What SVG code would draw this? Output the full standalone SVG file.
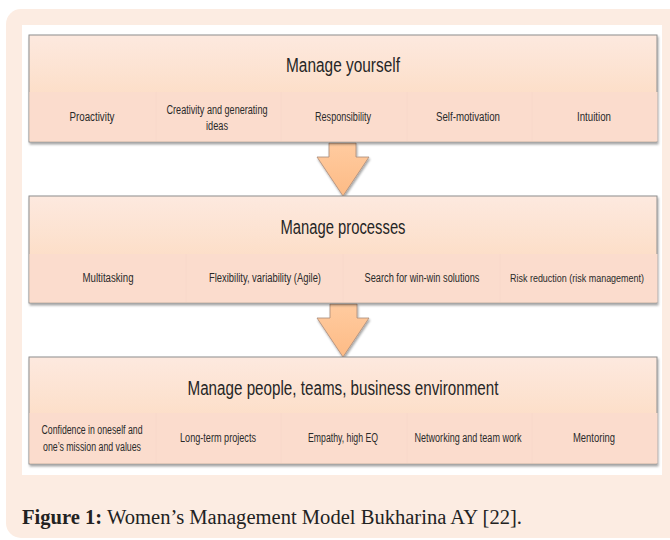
<svg xmlns="http://www.w3.org/2000/svg" width="670" height="540" viewBox="0 0 670 540">
<defs>
<linearGradient id="topGrad" x1="0" y1="0" x2="0" y2="1">
<stop offset="0" stop-color="#fde9df"/>
<stop offset="1" stop-color="#fcd6b6"/>
</linearGradient>
<linearGradient id="arrowGrad" x1="0" y1="0" x2="0" y2="1">
<stop offset="0" stop-color="#ffcba0"/>
<stop offset="1" stop-color="#fdbb85"/>
</linearGradient>
<filter id="shadow" x="-5%" y="-5%" width="110%" height="120%">
<feDropShadow dx="1" dy="2" stdDeviation="1.2" flood-color="#000" flood-opacity="0.35"/>
</filter>
</defs>
<style>
.box{fill:url(#topGrad);stroke:#8e8e8e;stroke-width:1}
.band{fill:#fbdccd}
.div{stroke:#f8d8ca;stroke-width:1}
.title{font-family:"Liberation Sans",Arial,sans-serif;font-size:20px;fill:#262626;text-anchor:middle}
.item{font-family:"Liberation Sans",Arial,sans-serif;font-size:12px;fill:#2a2a2a;text-anchor:middle}
.small{font-size:10px}
.arrow{fill:url(#arrowGrad);stroke:#a88a78;stroke-width:0.8}
.cap{font-family:"Liberation Serif","Times New Roman",serif;font-size:20px;fill:#222}
</style>
<rect x="6" y="9" width="690" height="529" rx="15" fill="#fcece2"/>
<rect x="22" y="25" width="640" height="450" fill="#ffffff"/>

<g id="connectors">
<path class="arrow" filter="url(#shadow)" d="M329,143 L356,143 L356,157 L369,157 L343,196 L317,157 L329,157 Z"/>
<path class="arrow" filter="url(#shadow)" d="M330,304 L357,304 L357,318 L369,318 L343,357 L317,318 L330,318 Z"/>
</g>

<g id="node-manage-yourself">
<rect class="box" x="29" y="35" width="628" height="107" filter="url(#shadow)"/>
<rect class="band" x="29.5" y="92" width="628" height="49.5"/>
<line class="div" x1="156" y1="92" x2="156" y2="141"/>
<line class="div" x1="281" y1="92" x2="281" y2="141"/>
<line class="div" x1="407" y1="92" x2="407" y2="141"/>
<line class="div" x1="532" y1="92" x2="532" y2="141"/>
<text class="title" x="343" y="72" textLength="114" lengthAdjust="spacingAndGlyphs">Manage yourself</text>
<text class="item" x="92" y="121" textLength="45" lengthAdjust="spacingAndGlyphs">Proactivity</text>
<text class="item" x="217" y="114" textLength="101" lengthAdjust="spacingAndGlyphs">Creativity and generating</text>
<text class="item" x="217" y="130" textLength="22" lengthAdjust="spacingAndGlyphs">ideas</text>
<text class="item" x="343" y="121" textLength="56" lengthAdjust="spacingAndGlyphs">Responsibility</text>
<text class="item" x="468" y="121" textLength="64" lengthAdjust="spacingAndGlyphs">Self-motivation</text>
<text class="item" x="594" y="121" textLength="34" lengthAdjust="spacingAndGlyphs">Intuition</text>
</g>

<g id="node-manage-processes">
<rect class="box" x="29" y="196" width="628" height="107" filter="url(#shadow)"/>
<rect class="band" x="29.5" y="254" width="628" height="48.5"/>
<line class="div" x1="186" y1="254" x2="186" y2="302"/>
<line class="div" x1="343" y1="254" x2="343" y2="302"/>
<line class="div" x1="500" y1="254" x2="500" y2="302"/>
<text class="title" x="343" y="234" textLength="125" lengthAdjust="spacingAndGlyphs">Manage processes</text>
<text class="item" x="108" y="282" textLength="51" lengthAdjust="spacingAndGlyphs">Multitasking</text>
<text class="item" x="265" y="282" textLength="112" lengthAdjust="spacingAndGlyphs">Flexibility, variability (Agile)</text>
<text class="item" x="422" y="282" textLength="115" lengthAdjust="spacingAndGlyphs">Search for win-win solutions</text>
<text class="item small" x="577" y="282" textLength="134" lengthAdjust="spacingAndGlyphs">Risk reduction (risk management)</text>
</g>

<g id="node-manage-people">
<rect class="box" x="29" y="357" width="628" height="107" filter="url(#shadow)"/>
<rect class="band" x="29.5" y="413" width="628" height="50.5"/>
<line class="div" x1="156" y1="413" x2="156" y2="463"/>
<line class="div" x1="281" y1="413" x2="281" y2="463"/>
<line class="div" x1="407" y1="413" x2="407" y2="463"/>
<line class="div" x1="532" y1="413" x2="532" y2="463"/>
<text class="title" x="343" y="395" textLength="311" lengthAdjust="spacingAndGlyphs">Manage people, teams, business environment</text>
<text class="item" x="92" y="434" textLength="101" lengthAdjust="spacingAndGlyphs">Confidence in oneself and</text>
<text class="item" x="92" y="451" textLength="98" lengthAdjust="spacingAndGlyphs">one’s mission and values</text>
<text class="item" x="218" y="442" textLength="76" lengthAdjust="spacingAndGlyphs">Long-term projects</text>
<text class="item" x="343" y="442" textLength="70" lengthAdjust="spacingAndGlyphs">Empathy, high EQ</text>
<text class="item" x="468" y="442" textLength="107" lengthAdjust="spacingAndGlyphs">Networking and team work</text>
<text class="item" x="594" y="442" textLength="42" lengthAdjust="spacingAndGlyphs">Mentoring</text>
</g>

<text class="cap" x="22" y="524" textLength="500" lengthAdjust="spacingAndGlyphs"><tspan font-weight="bold">Figure 1:</tspan> Women’s Management Model Bukharina AY [22].</text>
</svg>
